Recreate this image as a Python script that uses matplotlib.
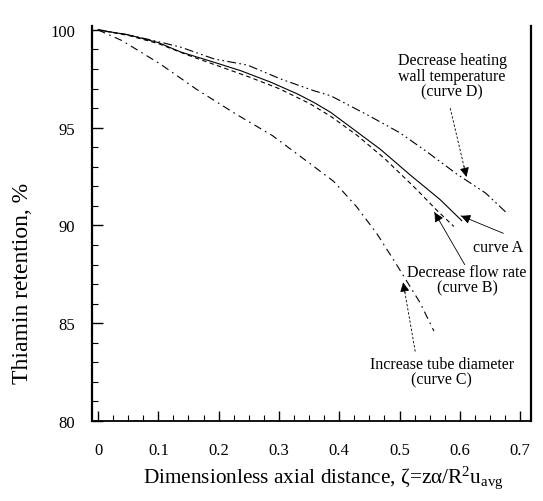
import matplotlib
matplotlib.use("Agg")
import matplotlib.pyplot as plt
from matplotlib.ticker import MultipleLocator

plt.rcParams['font.family'] = ['Liberation Serif', 'DejaVu Serif']
plt.rcParams['mathtext.fontset'] = 'custom'
plt.rcParams['mathtext.rm'] = 'Liberation Serif'
plt.rcParams['mathtext.it'] = 'Liberation Serif:italic'

# Curve A (solid)
xa = [0, 0.05, 0.1, 0.138, 0.193, 0.237, 0.287, 0.331, 0.358, 0.386, 0.42, 0.468, 0.517, 0.567, 0.603]
ya = [100, 99.75, 99.35, 98.86, 98.34, 97.91, 97.32, 96.72, 96.29, 95.78, 95.0, 93.9, 92.6, 91.33, 90.25]
# Curve B (dashed) - decrease flow rate
xb = [0, 0.05, 0.1, 0.15, 0.2, 0.25, 0.3, 0.35, 0.386, 0.43, 0.476, 0.528, 0.561, 0.59]
yb = [100, 99.72, 99.3, 98.7, 98.15, 97.6, 97.0, 96.25, 95.58, 94.6, 93.4, 91.85, 90.8, 89.95]
# Curve C (dash-dot) - increase tube diameter
xc = [0, 0.04, 0.103, 0.163, 0.229, 0.289, 0.353, 0.391, 0.429, 0.462, 0.493, 0.534, 0.557]
yc = [100, 99.45, 98.26, 96.97, 95.69, 94.6, 93.13, 92.25, 90.95, 89.6, 88.1, 86.05, 84.6]
# Curve D (dash-dot-dot) - decrease heating wall temperature
xd = [0, 0.05, 0.1, 0.138, 0.193, 0.248, 0.303, 0.358, 0.386, 0.45, 0.5, 0.544, 0.594, 0.643, 0.679]
yd = [100, 99.75, 99.4, 99.11, 98.51, 98.2, 97.49, 96.89, 96.63, 95.6, 94.75, 93.8, 92.65, 91.65, 90.6]

xticks = [0, 0.1, 0.2, 0.3, 0.4, 0.5, 0.6, 0.7]
xticklabels = ['0', '0.1', '0.2', '0.3', '0.4', '0.5', '0.6', '0.7']
yticks = [80, 85, 90, 95, 100]
yticklabels = ['80', '85', '90', '95', '100']

fig = plt.figure(figsize=(5.43, 5.02), dpi=100)
ax = fig.add_axes([92/543, 1-422/502, (531-92)/543, (422-27)/502])

lw = 0.8
ax.plot(xa, ya, color='k', lw=lw, linestyle='-')
ax.plot(xb, yb, color='k', lw=lw, linestyle=(0, (4, 3)))
ax.plot(xc, yc, color='k', lw=lw, linestyle=(0, (7, 4, 1.5, 4)))
ax.plot(xd, yd, color='k', lw=lw, linestyle=(0, (8, 3, 1.5, 3, 1.5, 3)))

ax.set_xlim(-0.01, 0.718)
ax.set_ylim(80, 100.2)
ax.set_xticks(xticks)
ax.set_xticklabels(xticklabels)
ax.set_yticks(yticks)
ax.set_yticklabels(yticklabels)
ax.xaxis.set_minor_locator(MultipleLocator(0.025))
ax.yaxis.set_minor_locator(MultipleLocator(1))
ax.tick_params(axis='both', which='both', direction='in', top=False, right=False, labelsize=12)
ax.tick_params(axis='x', which='major', length=7, width=1, pad=15)
ax.tick_params(axis='x', which='minor', length=4, width=0.8)
ax.tick_params(axis='y', which='major', length=8, width=1, pad=12)
ax.tick_params(axis='y', which='minor', length=4, width=0.8)

ax.spines['top'].set_visible(False)
ax.spines['left'].set_linewidth(1.6)
ax.spines['right'].set_linewidth(1.6)
ax.spines['bottom'].set_linewidth(1.3)

ax.set_xlabel(r'Dimensionless axial distance, ζ=zα/R$^{2}$u$_{\mathrm{avg}}$', fontsize=15.3)
ax.set_ylabel('Thiamin retention, %', fontsize=17)
ax.xaxis.set_label_coords(0.528, -0.107)
ax.yaxis.set_label_coords(-0.135, 0.35)

fs = 11.5
ls_txt = 0.95
ax.text(0.587, 97.65, 'Decrease heating\nwall temperature\n(curve D)', ha='center', va='center', fontsize=fs, linespacing=ls_txt)
ax.text(0.663, 88.9, 'curve A', ha='center', va='center', fontsize=fs)
ax.text(0.612, 87.24, 'Decrease flow rate\n(curve B)', ha='center', va='center', fontsize=fs, linespacing=ls_txt)
ax.text(0.570, 82.53, 'Increase tube diameter\n(curve C)', ha='center', va='center', fontsize=fs, linespacing=ls_txt)

def arrow(tail, tip, dashed):
    ls = (0, (3, 2)) if dashed else '-'
    ax.plot([tail[0], tip[0]], [tail[1], tip[1]], color='k', lw=0.6, linestyle=ls)
    ax.annotate('', xy=tip, xytext=(tip[0] + (tail[0]-tip[0])*0.15, tip[1] + (tail[1]-tip[1])*0.15),
                arrowprops=dict(arrowstyle='-|>', color='k', lw=0.6, mutation_scale=14, shrinkA=0, shrinkB=0))

arrow((0.672, 89.6), (0.602, 90.49), False)
arrow((0.608, 88.0), (0.558, 90.67), False)
arrow((0.526, 83.55), (0.506, 87.09), True)
arrow((0.584, 96.0), (0.611, 92.48), True)

fig.savefig('out.png', dpi=100)
